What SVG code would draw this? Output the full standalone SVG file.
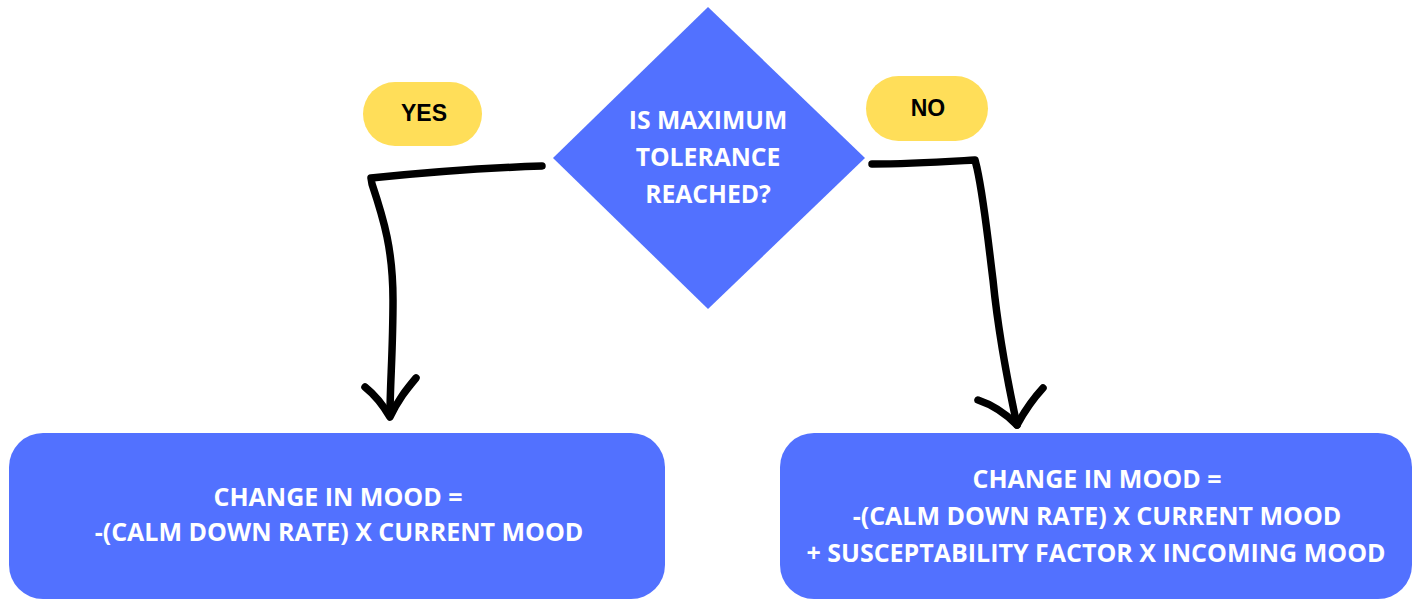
<svg xmlns="http://www.w3.org/2000/svg" width="1421" height="609" viewBox="0 0 1421 609">
<style>
.node{fill:#5271FF}
.pill{fill:#FFDE59}
.t{font-family:"Open Sans","Liberation Sans",sans-serif;font-weight:700;font-size:25px;fill:#FFFFFF;text-anchor:middle}
.lbl{font-family:"Liberation Sans","Arial",sans-serif;font-weight:700;font-size:23px;fill:#000000;text-anchor:middle}
.wire{fill:none;stroke:#000000;stroke-width:7.5;stroke-linecap:round;stroke-linejoin:round}
</style>
<rect width="1421" height="609" fill="#FFFFFF"/>
<g id="decision">
<polygon class="node" points="708,7 865,158 708,309 553,158"/>
<text class="t" style="font-size:24.7px" x="708" y="129">IS MAXIMUM</text>
<text class="t" style="font-size:24.7px" x="708" y="166">TOLERANCE</text>
<text class="t" style="font-size:24.7px" x="708" y="203">REACHED?</text>
</g>
<g id="yes-label">
<rect class="pill" x="363" y="82" width="119" height="64" rx="32"/>
<text class="lbl" x="424" y="121">YES</text>
</g>
<g id="no-label">
<rect class="pill" x="866" y="76" width="122" height="65" rx="32.5"/>
<text class="lbl" x="928" y="116">NO</text>
</g>
<g id="yes-result">
<rect class="node" x="9" y="433" width="656" height="166" rx="34"/>
<text class="t" x="338" y="506">CHANGE IN MOOD =</text>
<text class="t" x="339" y="541">-(CALM DOWN RATE) X CURRENT MOOD</text>
</g>
<g id="no-result">
<rect class="node" x="780" y="433" width="632" height="166" rx="34"/>
<text class="t" x="1097" y="488">CHANGE IN MOOD =</text>
<text class="t" x="1097" y="525">-(CALM DOWN RATE) X CURRENT MOOD</text>
<text class="t" x="1096" y="562">+ SUSCEPTABILITY FACTOR X INCOMING MOOD</text>
</g>
<g id="connectors">
<path class="wire" d="M542,166 C480,168 420,173 371,178 L372,184 C384,220 393,250 393,300 C393,350 390,385 390,415"/>
<path class="wire" d="M365,387 C375,395 383,405 390,417 C398,400 406,390 416,378"/>
<path class="wire" d="M872,164 C910,164 940,162 975,160 L977,168 C984,200 988,240 993,280 C998,330 1005,370 1017,425"/>
<path class="wire" d="M978,400 C993,405 1006,414 1017,425 C1024,412 1032,400 1043,388"/>
</g>
</svg>
